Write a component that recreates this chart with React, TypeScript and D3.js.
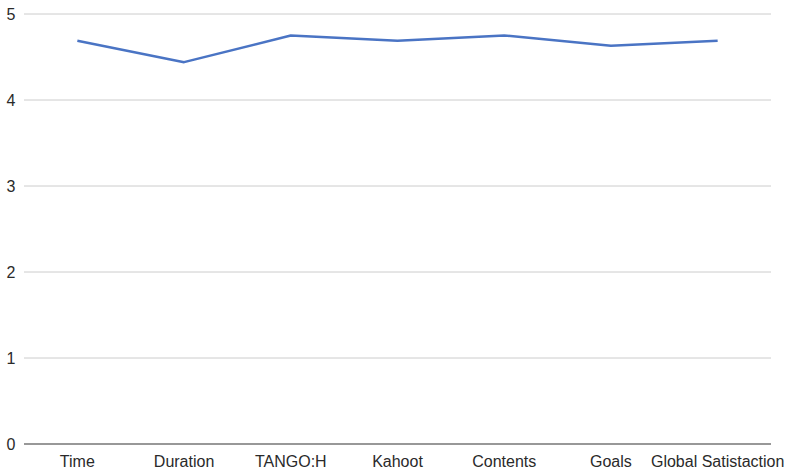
import React from "react";
import * as d3 from "d3";

const categories = ["Time", "Duration", "TANGO:H", "Kahoot", "Contents", "Goals", "Global Satistaction"];
const values = [4.69, 4.44, 4.75, 4.69, 4.75, 4.63, 4.69];
const yTicks = [0, 1, 2, 3, 4, 5];

const W = 788, H = 474;
const margin = { left: 24, right: 17, top: 14, bottom: 30 };

export default function App() {
  const x = d3.scaleBand<string>().domain(categories).range([margin.left, W - margin.right]);
  const y = d3.scaleLinear().domain([0, 5]).range([H - margin.bottom, margin.top]);
  const line = d3.line<number>()
    .x((_, i) => (x(categories[i]) as number) + x.bandwidth() / 2)
    .y((d) => y(d));
  const font = "Arial, 'Liberation Sans', sans-serif";
  return (
    <svg width={W} height={H} style={{ position: "absolute", left: 0, top: 0, background: "#fff" }}>
      {yTicks.map((t) => (
        <g key={t}>
          <line x1={margin.left} x2={W - margin.right} y1={y(t)} y2={y(t)}
            stroke={t === 0 ? "#333" : "#ccc"} strokeWidth={t === 0 ? 1.2 : 1} />
          <text x={15.5} y={y(t) + 5.5} textAnchor="end" fontFamily={font} fontSize={16} fill="#2a2a2a">{t}</text>
        </g>
      ))}
      {categories.map((c) => (
        <text key={c} x={(x(c) as number) + x.bandwidth() / 2} y={466.5} textAnchor="middle"
          fontFamily={font} fontSize={16} fill="#2a2a2a">{c}</text>
      ))}
      <path d={line(values) || ""} fill="none" stroke="#4a74c4" strokeWidth={2.5} strokeLinejoin="round" />
    </svg>
  );
}
